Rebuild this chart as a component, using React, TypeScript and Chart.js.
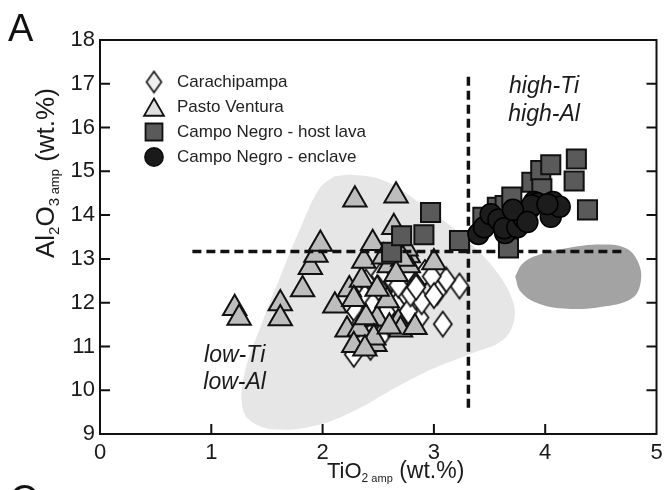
import React, { useEffect, useRef } from 'react';
import { Chart, registerables } from 'chart.js';
import { drawPoint } from 'chart.js/helpers';

Chart.register(...registerables);

// Axis ticks
const X_TICKS = [0, 1, 2, 3, 4, 5];
const Y_TICKS = [9, 10, 11, 12, 13, 14, 15, 16, 17, 18];

// Carachipampa (TiO2, Al2O3)
const carachipampaTi = [2.28, 2.43, 3.08, 3.23, 3.11, 3.03, 2.87, 2.87, 2.89, 2.75, 2.6, 2.66, 2.39, 2.3, 2.54, 2.43, 2.47, 2.75, 2.92, 2.98, 3.0, 2.72, 2.77, 2.35, 2.52, 2.62, 2.79, 2.52, 2.38, 2.5, 2.57, 2.45, 2.68, 2.84];
const carachipampaAl = [10.82, 10.98, 11.51, 12.38, 12.52, 12.24, 12.5, 11.66, 12.02, 12.16, 12.27, 11.93, 12.47, 11.8, 12.24, 11.85, 11.24, 12.69, 12.69, 12.6, 12.16, 11.63, 11.8, 11.55, 11.22, 12.54, 12.2, 12.62, 12.13, 12.33, 11.79, 11.95, 12.4, 12.35];

// Pasto Ventura
const pastoTi = [1.21, 1.25, 1.62, 1.62, 1.82, 1.89, 1.94, 1.98, 2.29, 2.66, 2.11, 2.24, 2.22, 2.33, 2.35, 2.37, 2.45, 2.47, 2.49, 2.39, 2.6, 2.64, 2.58, 2.68, 2.7, 2.77, 2.77, 2.83, 3.0, 2.49, 2.28, 2.75, 2.46, 2.28, 2.38, 2.6, 2.72, 2.55, 2.66];
const pastoAl = [11.87, 11.65, 11.98, 11.64, 12.3, 12.81, 13.09, 13.34, 14.35, 14.44, 11.93, 12.3, 11.38, 11.4, 12.52, 12.95, 13.36, 11.05, 11.63, 11.66, 12.85, 13.72, 12.05, 11.55, 11.38, 13.08, 12.85, 11.44, 12.92, 12.31, 12.08, 13.23, 11.2, 11.03, 10.95, 11.45, 13.0, 13.05, 12.65];

// Campo Negro - host lava
const hostTi = [2.62, 2.71, 2.91, 2.97, 3.23, 3.44, 3.57, 3.64, 3.7, 3.67, 3.88, 3.96, 4.05, 3.97, 4.28, 4.26, 4.38, 3.8];
const hostAl = [13.15, 13.53, 13.55, 14.06, 13.42, 13.95, 14.18, 14.22, 14.41, 13.25, 14.75, 15.02, 15.15, 14.6, 15.28, 14.78, 14.12, 14.05];

// Campo Negro - enclave
const enclaveTi = [3.4, 3.45, 3.51, 3.58, 3.64, 3.63, 3.75, 3.79, 3.81, 3.86, 3.9, 3.93, 3.88, 3.71, 4.05, 4.07, 4.13, 3.84, 4.02];
const enclaveAl = [13.57, 13.72, 14.02, 13.9, 13.59, 13.7, 13.72, 14.0, 13.92, 14.15, 14.3, 14.27, 14.22, 14.12, 13.96, 14.3, 14.19, 13.84, 14.25];

// Low-Ti / low-Al field outline
const lowFieldTi = [2.1, 2.26, 2.56, 2.86, 3.15, 3.35, 3.55, 3.7, 3.72, 3.62, 3.35, 3.0, 2.65, 2.3, 1.95, 1.6, 1.38, 1.28, 1.3, 1.45, 1.62, 1.8, 1.97, 2.1];
const lowFieldAl = [14.88, 14.92, 14.78, 14.3, 13.75, 13.3, 12.75, 12.1, 11.6, 11.15, 10.85, 10.5, 10.05, 9.55, 9.2, 9.1, 9.25, 9.6, 10.4, 11.5, 12.6, 13.7, 14.6, 14.88];

// High-Ti / low-Al field outline
const highFieldTi = [3.73, 3.8, 3.95, 4.2, 4.5, 4.72, 4.83, 4.86, 4.78, 4.5, 4.2, 3.95, 3.78, 3.73];
const highFieldAl = [12.6, 12.9, 13.1, 13.25, 13.33, 13.25, 12.95, 12.5, 12.1, 11.9, 11.86, 11.97, 12.25, 12.6];

// Threshold lines
const AL_LIMIT = 13.17;
const AL_LIMIT_TI = [0.83, 4.73];
const TI_LIMIT = 3.31;
const TI_LIMIT_AL = [9.6, 17.25];

const SERIES_NAMES = ['Carachipampa', 'Pasto Ventura', 'Campo Negro - host lava', 'Campo Negro - enclave'];

const FONT = '"Liberation Sans", Arial, Helvetica, sans-serif';

const pts = (xs: number[], ys: number[]) => xs.map((x, i) => ({ x, y: ys[i] }));

function makeDiamond(w: number, h: number, fill: string, lw: number) {
  const c = document.createElement('canvas');
  c.width = Math.ceil(w + 2 * lw);
  c.height = Math.ceil(h + 2 * lw);
  const g = c.getContext('2d')!;
  const cx = c.width / 2;
  const cy = c.height / 2;
  g.beginPath();
  g.moveTo(cx, cy - h / 2);
  g.lineTo(cx + w / 2, cy);
  g.lineTo(cx, cy + h / 2);
  g.lineTo(cx - w / 2, cy);
  g.closePath();
  g.fillStyle = fill;
  g.fill();
  g.lineWidth = lw;
  g.strokeStyle = '#111';
  g.stroke();
  return c;
}

type Part = { text: string; size: number; dy?: number };

function drawRich(ctx: CanvasRenderingContext2D, parts: Part[], x: number, y: number) {
  let cx = x;
  for (const p of parts) {
    ctx.font = `${p.size}px ${FONT}`;
    ctx.fillText(p.text, cx, y + (p.dy || 0));
    cx += ctx.measureText(p.text).width;
  }
}

export default function App() {
  const ref = useRef<HTMLCanvasElement | null>(null);

  useEffect(() => {
    document.body.style.margin = '0';
    const canvas = ref.current!;
    const diamondPlot = makeDiamond(18, 25, '#ffffff', 1.8);
    const diamondKey = makeDiamond(15, 21, '#f0f0f0', 1.6);

    const legendItems = [
      { style: diamondKey as any, radius: 10, fill: '#f0f0f0', dy: 0 },
      { style: 'triangle', radius: 11.5, fill: '#e0e0e0', dy: 3 },
      { style: 'rect', radius: 12, fill: '#5a5a5a', dy: 0 },
      { style: 'circle', radius: 9, fill: '#1a1a1a', dy: 0 },
    ];

    const decor = {
      id: 'decor',
      afterDraw(chart: any) {
        const { ctx, chartArea: a, scales } = chart;
        const xs = scales.x;
        const ys = scales.y;
        ctx.save();

        // frame and inward ticks
        ctx.strokeStyle = '#111';
        ctx.lineWidth = 2;
        ctx.strokeRect(a.left, a.top, a.right - a.left, a.bottom - a.top);
        ctx.beginPath();
        for (const v of X_TICKS.slice(1, -1)) {
          const px = xs.getPixelForValue(v);
          ctx.moveTo(px, a.bottom);
          ctx.lineTo(px, a.bottom - 10);
        }
        for (const v of Y_TICKS.slice(1, -1)) {
          const py = ys.getPixelForValue(v);
          ctx.moveTo(a.left, py);
          ctx.lineTo(a.left + 10, py);
          ctx.moveTo(a.right, py);
          ctx.lineTo(a.right - 10, py);
        }
        ctx.stroke();

        // legend
        legendItems.forEach((it, i) => {
          const cy = a.top + 42 + i * 25;
          ctx.fillStyle = it.fill;
          ctx.strokeStyle = '#111';
          ctx.lineWidth = 1.8;
          drawPoint(ctx, { pointStyle: it.style, radius: it.radius, rotation: 0, borderWidth: 1.8 } as any, a.left + 54, cy + it.dy);
          ctx.fillStyle = '#222';
          ctx.font = `17px ${FONT}`;
          ctx.textAlign = 'left';
          ctx.textBaseline = 'middle';
          ctx.fillText(SERIES_NAMES[i], a.left + 77, cy);
        });

        // field annotations
        ctx.fillStyle = '#1a1a1a';
        ctx.textAlign = 'center';
        ctx.textBaseline = 'middle';
        ctx.font = `italic 23px ${FONT}`;
        ctx.fillText('high-Ti', xs.getPixelForValue(3.99), ys.getPixelForValue(16.93));
        ctx.fillText('high-Al', xs.getPixelForValue(3.99), ys.getPixelForValue(16.3));
        ctx.fillText('low-Ti', xs.getPixelForValue(1.21), ys.getPixelForValue(10.8));
        ctx.fillText('low-Al', xs.getPixelForValue(1.21), ys.getPixelForValue(10.18));

        // axis titles
        ctx.textAlign = 'left';
        ctx.textBaseline = 'alphabetic';
        ctx.fillStyle = '#1a1a1a';
        drawRich(ctx, [
          { text: 'TiO', size: 22 },
          { text: '2', size: 12, dy: 4 },
          { text: ' amp', size: 11, dy: 4 },
          { text: ' (wt.%)', size: 23 },
        ], 327, 478);

        ctx.save();
        ctx.translate(54, 258);
        ctx.rotate(-Math.PI / 2);
        drawRich(ctx, [
          { text: 'Al', size: 26 },
          { text: '2', size: 15, dy: 5 },
          { text: 'O', size: 26 },
          { text: '3', size: 15, dy: 5 },
          { text: ' amp', size: 13, dy: 5 },
          { text: ' (wt.%)', size: 26 },
        ], 0, 0);
        ctx.restore();

        // panel letters
        ctx.font = `38px ${FONT}`;
        ctx.fillStyle = '#111';
        ctx.fillText('A', 8, 41);
        ctx.fillText('C', 10, 512);

        ctx.restore();
      },
    };

    const chart = new Chart(canvas, {
      type: 'scatter',
      data: {
        datasets: [
          {
            type: 'line',
            label: 'low field',
            data: pts(lowFieldTi, lowFieldAl),
            fill: 'shape',
            backgroundColor: '#e6e6e6',
            borderColor: 'rgba(0,0,0,0)',
            borderWidth: 0,
            pointRadius: 0,
            tension: 0.4,
            order: 10,
          },
          {
            type: 'line',
            label: 'high field',
            data: pts(highFieldTi, highFieldAl),
            fill: 'shape',
            backgroundColor: '#a3a3a3',
            borderColor: 'rgba(0,0,0,0)',
            borderWidth: 0,
            pointRadius: 0,
            tension: 0.4,
            order: 9,
          },
          {
            label: SERIES_NAMES[0],
            data: pts(carachipampaTi, carachipampaAl),
            pointStyle: diamondPlot as any,
            pointRadius: 10,
            pointHoverRadius: 10,
            order: 6,
          },
          {
            label: SERIES_NAMES[1],
            data: pts(pastoTi, pastoAl),
            pointStyle: 'triangle',
            pointRadius: 13.5,
            pointHoverRadius: 13.5,
            pointBackgroundColor: '#bdbdbd',
            pointBorderColor: '#111',
            pointBorderWidth: 2,
            order: 5,
          },
          {
            type: 'line',
            label: 'Al limit',
            data: pts(AL_LIMIT_TI, [AL_LIMIT, AL_LIMIT]),
            borderColor: '#111',
            borderWidth: 3.5,
            borderDash: [9, 5],
            pointRadius: 0,
            fill: false,
            order: 4,
          },
          {
            type: 'line',
            label: 'Ti limit',
            data: pts([TI_LIMIT, TI_LIMIT], TI_LIMIT_AL),
            borderColor: '#111',
            borderWidth: 3.5,
            borderDash: [9, 5],
            pointRadius: 0,
            fill: false,
            order: 4,
          },
          {
            label: SERIES_NAMES[2],
            data: pts(hostTi, hostAl),
            pointStyle: 'rect',
            pointRadius: 13.5,
            pointHoverRadius: 13.5,
            pointBackgroundColor: '#5a5a5a',
            pointBorderColor: '#111',
            pointBorderWidth: 2,
            order: 3,
          },
          {
            label: SERIES_NAMES[3],
            data: pts(enclaveTi, enclaveAl),
            pointStyle: 'circle',
            pointRadius: 10.5,
            pointHoverRadius: 10.5,
            pointBackgroundColor: '#1c1c1c',
            pointBorderColor: '#000',
            pointBorderWidth: 1.5,
            order: 2,
          },
        ] as any,
      },
      options: {
        animation: false,
        responsive: false,
        devicePixelRatio: 1,
        layout: { padding: { top: 40, right: 12, left: 0, bottom: 0 } },
        plugins: { legend: { display: false }, tooltip: { enabled: false } },
        scales: {
          x: {
            type: 'linear',
            min: 0,
            max: 5,
            afterBuildTicks: (s: any) => { s.ticks = X_TICKS.map((value) => ({ value })); },
            afterFit: (s: any) => { s.height = 56; },
            ticks: { font: { size: 22, family: FONT }, color: '#1a1a1a', padding: 6, maxRotation: 0 },
            grid: { display: false, drawTicks: false },
            border: { display: false },
          },
          y: {
            type: 'linear',
            min: 9,
            max: 18,
            afterBuildTicks: (s: any) => { s.ticks = Y_TICKS.map((value) => ({ value })); },
            afterFit: (s: any) => { s.width = 100; },
            ticks: { font: { size: 22, family: FONT }, color: '#1a1a1a', padding: 5 },
            grid: { display: false, drawTicks: false },
            border: { display: false },
          },
        },
      } as any,
      plugins: [decor],
    });

    return () => chart.destroy();
  }, []);

  return <canvas ref={ref} width={672} height={490} style={{ display: 'block' }} />;
}
